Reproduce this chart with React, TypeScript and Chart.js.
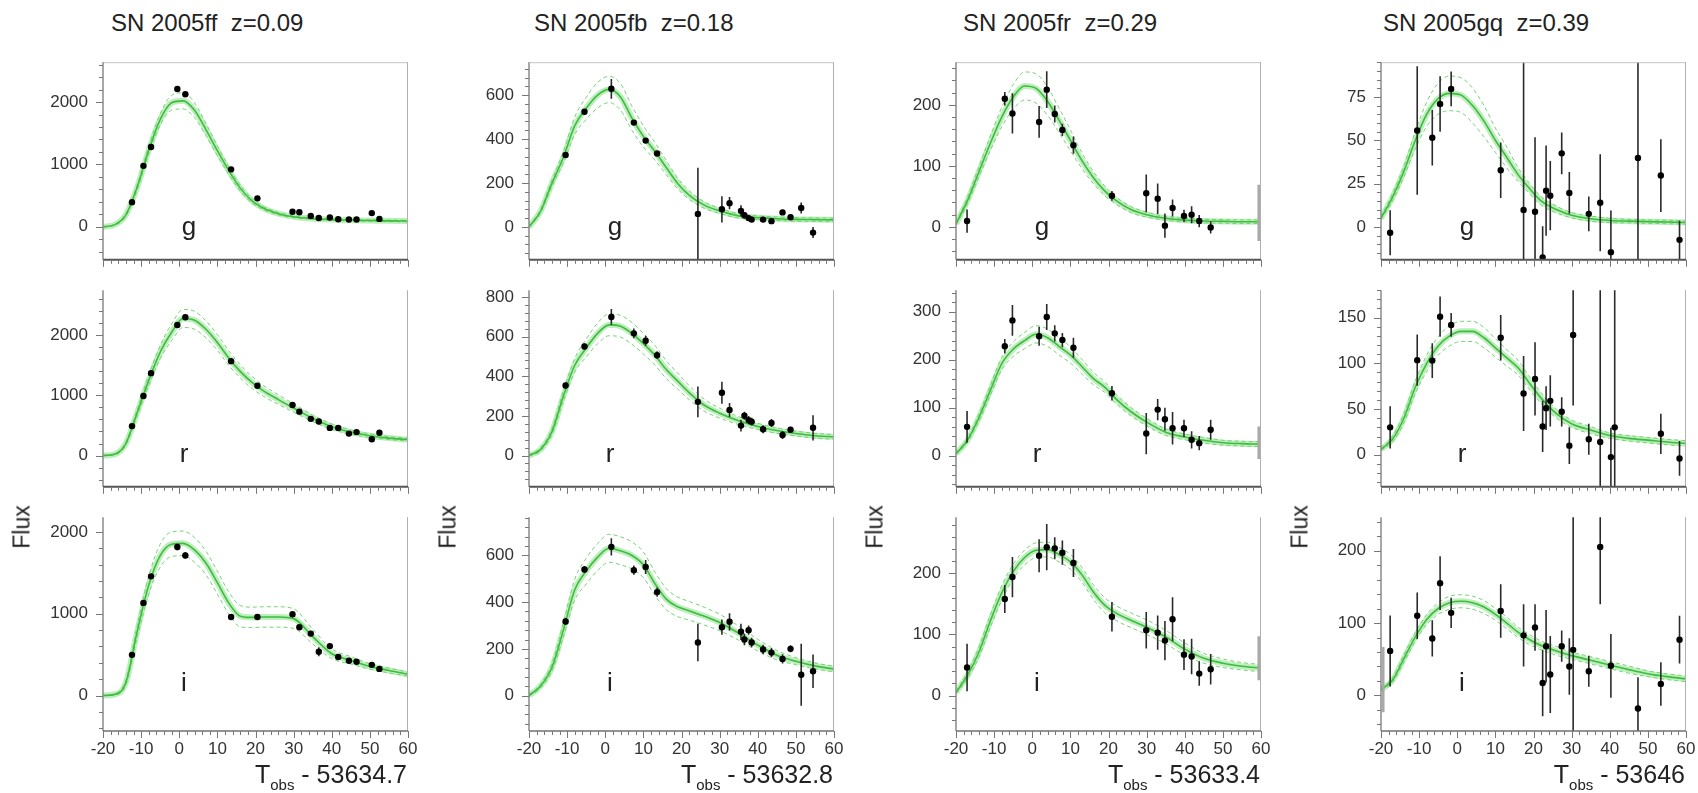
import React, { useEffect, useRef } from 'react';
import { Chart, registerables } from 'chart.js';

Chart.register(...registerables);

const FONT = "'Liberation Sans', Arial, Helvetica, sans-serif";

// ---------- shared grids ----------
const MODEL_T = [-20, -17, -14, -11, -8, -5, -2, 1, 4, 7, 10, 13, 16, 19, 22, 26, 30, 35, 40, 45, 50, 55, 60];
const X_TICKS = [-20, -10, 0, 10, 20, 30, 40, 50, 60];

// ---------- SN 2005ff (z=0.09) ----------
const FF_T = [-12.4, -9.4, -7.4, -0.5, 1.6, 13.6, 20.5, 29.7, 31.5, 34.5, 36.6, 39.5, 41.7, 44.5, 46.5, 50.5, 52.5];
const FF_G = [395, 977, 1279, 2209, 2126, 921, 456, 242, 233, 172, 140, 149, 121, 116, 116, 219, 126];
const FF_G_ERR = [20, 25, 30, 40, 40, 25, 20, 15, 15, 15, 15, 15, 15, 15, 15, 30, 40];
const FF_R = [490, 990, 1370, 2170, 2300, 1570, 1160, 840, 730, 610, 565, 460, 460, 365, 390, 270, 380];
const FF_R_ERR = [20, 25, 30, 40, 40, 30, 25, 25, 25, 20, 20, 20, 20, 20, 20, 25, 30];
const FF_I = [497, 1132, 1457, 1816, 1713, 960, 960, 994, 834, 757, 535, 604, 470, 424, 413, 375, 325];
const FF_I_ERR = [20, 25, 30, 40, 40, 25, 25, 30, 25, 25, 55, 25, 20, 20, 20, 25, 20];
const FF_G_MODEL = [0, 30, 190, 640, 1230, 1720, 1990, 2020, 1870, 1560, 1220, 900, 620, 420, 300, 210, 160, 130, 115, 105, 100, 95, 92];
const FF_G_BAND = [3, 8, 20, 40, 60, 90, 120, 130, 120, 100, 80, 60, 45, 35, 25, 20, 15, 12, 12, 12, 12, 12, 12];
const FF_R_MODEL = [0, 20, 200, 720, 1250, 1720, 2050, 2280, 2250, 2100, 1880, 1620, 1400, 1220, 1080, 930, 790, 620, 480, 390, 330, 290, 265];
const FF_R_BAND = [3, 10, 25, 50, 80, 110, 140, 150, 150, 140, 130, 120, 110, 100, 90, 80, 70, 55, 45, 35, 30, 25, 22];
const FF_I_MODEL = [0, 12, 160, 790, 1350, 1710, 1850, 1860, 1780, 1620, 1380, 1130, 970, 955, 960, 960, 940, 720, 510, 430, 355, 306, 260];
const FF_I_BAND = [3, 8, 30, 70, 110, 140, 150, 150, 150, 145, 140, 135, 130, 125, 125, 125, 120, 90, 60, 45, 35, 30, 25];
const FF_TICKS = [0, 1000, 2000];

// ---------- SN 2005fb (z=0.18) ----------
const FB_T = [-10.4, -5.45, 1.6, 7.5, 10.6, 13.6, 24.3, 30.6, 32.6, 35.6, 36.5, 37.6, 38.4, 41.4, 43.6, 46.5, 48.6, 51.4, 54.5];
const FB_G = [327, 524, 629, 475, 393, 334, 59, 80, 108, 73, 53, 40, 33, 33, 26, 66, 44, 86, -26];
const FB_G_ERR = [10, 10, 45, 10, 10, 10, 210, 60, 28, 25, 15, 12, 10, 10, 10, 12, 10, 25, 25];
const FB_R = [354, 551, 700, 617, 580, 507, 271, 317, 230, 151, 201, 179, 171, 133, 164, 104, 130, null, 140];
const FB_R_ERR = [15, 15, 40, 25, 25, 20, 78, 55, 35, 30, 20, 20, 20, 20, 20, 20, 15, 0, 64];
const FB_I = [317, 540, 637, 537, 551, 443, 227, 293, 316, 273, 240, 280, 227, 197, 184, 157, 200, 89, 104];
const FB_I_ERR = [15, 15, 37, 20, 30, 20, 80, 33, 37, 35, 25, 20, 20, 20, 20, 20, 15, 133, 72];
const FB_G_MODEL = [0, 70, 198, 316, 461, 540, 600, 626, 592, 495, 412, 345, 270, 198, 145, 99, 73, 50, 42, 37, 34, 33, 32];
const FB_G_BAND = [3, 8, 15, 25, 40, 50, 58, 60, 60, 55, 48, 40, 32, 25, 20, 15, 12, 10, 8, 8, 8, 8, 8];
const FB_R_MODEL = [0, 30, 120, 300, 456, 543, 617, 660, 653, 617, 565, 507, 434, 376, 318, 254, 214, 176, 147, 126, 111, 100, 94];
const FB_R_BAND = [3, 8, 15, 25, 35, 45, 52, 55, 55, 55, 52, 50, 45, 40, 35, 30, 25, 20, 16, 14, 12, 12, 12];
const FB_I_MODEL = [0, 40, 120, 280, 453, 533, 593, 631, 620, 600, 560, 480, 413, 380, 363, 340, 313, 267, 216, 173, 147, 127, 113];
const FB_I_BAND = [3, 8, 15, 30, 45, 55, 58, 60, 60, 58, 55, 50, 45, 42, 40, 38, 35, 30, 25, 20, 15, 13, 12];
const FB_G_TICKS = [0, 200, 400, 600];
const FB_R_TICKS = [0, 200, 400, 600, 800];
const FB_I_TICKS = [0, 200, 400, 600];

// ---------- SN 2005fr (z=0.29) ----------
const FR_T = [-17.1, -7.2, -5.2, 1.8, 3.8, 5.9, 7.9, 10.8, 20.9, 29.9, 32.9, 34.8, 36.8, 39.8, 41.8, 43.8, 46.8, 59.4];
const FR_G = [9.5, 210, 186, 172, 225, 185, 159, 134, 51, 55, 46, 2, 31, 18, 20, 9.5, -1, 23];
const FR_G_ERR = [19, 11, 33, 26, 30, 14, 10, 14, 8, 31, 25, 20, 14, 10, 14, 10, 10, 46];
const FR_R = [60, 228, 282, 249, 289, 255, 241, 225, 130, 46, 96, 76, 57, 57, 33, 26, 54, 27];
const FR_R_ERR = [33, 15, 32, 20, 27, 17, 15, 21, 15, 43, 22, 24, 34, 18, 18, 15, 21, 34];
const FR_I = [46, 158, 194, 229, 243, 241, 234, 217, 129, 107, 103, 90, 125, 67, 64, 36, 43, 61];
const FR_I_ERR = [39, 23, 33, 27, 38, 18, 20, 23, 24, 30, 28, 32, 36, 25, 29, 20, 25, 36];
const FR_G_MODEL = [5, 43, 90, 137, 180, 213, 231, 227, 206, 175, 142, 109, 81, 59, 43, 28, 20, 14, 11, 9.5, 9, 8.5, 8.5];
const FR_G_BAND = [2, 5, 8, 12, 16, 20, 23, 24, 23, 20, 17, 13, 10, 8, 6, 5, 4, 3, 3, 3, 3, 3, 3];
const FR_R_MODEL = [4, 32, 79, 136, 192, 222, 240, 253, 246, 228, 210, 186, 161, 143, 118, 91, 70, 49, 39, 32, 27, 25, 24];
const FR_R_BAND = [2, 4, 7, 10, 13, 15, 17, 18, 18, 18, 17, 15, 13, 11, 10, 9, 8, 7, 6, 6, 5, 5, 5];
const FR_I_MODEL = [5, 33, 71, 122, 168, 203, 226, 238, 239, 231, 219, 198, 170, 148, 135, 123, 112, 96, 76, 61, 53, 48, 45];
const FR_I_BAND = [2, 5, 8, 10, 12, 12, 12, 12, 12, 12, 12, 12, 12, 12, 12, 12, 12, 11, 10, 8, 7, 6, 6];
const FR_G_TICKS = [0, 100, 200];
const FR_R_TICKS = [0, 100, 200, 300];
const FR_I_TICKS = [0, 100, 200];

// ---------- SN 2005gq (z=0.39) ----------
const GQ_T = [-19.4, -17.6, -10.5, -6.55, -4.5, -1.6, 11.4, 17.4, 20.4, 22.4, 23.3, 24.4, 27.4, 29.4, 30.4, 34.5, 37.5, 40.3, 41.3, 47.4, 53.4, 58.3];
const GQ_G = [null, -3.4, 55.6, 51.4, 70.9, 79.6, 32.7, 9.7, 8.7, -17.6, 20.9, 18, 42.4, 19.6, null, 7.5, 13.9, -14.6, null, 39.7, 29.6, -7.5];
const GQ_G_ERR = [0, 13, 37, 16, 16, 10, 16, 100, 43, 18, 26, 20, 12, 12, 0, 10, 28, 24, 0, 80, 21, 11];
const GQ_R = [null, 30, 103.5, 103, 151, 142, 128, 67, 83, 31, 51, 59, 47, 10, 131, 17, 14, -2.5, 30, null, 23, -4];
const GQ_R_ERR = [0, 23, 28, 19, 22, 13, 25, 41, 40, 28, 24, 28, 16, 20, 77, 17, 200, 32, 160, 0, 22, 19];
const GQ_I = [22, 61.5, 110, 78.7, 155, 114, 116.6, 83, 93.8, 17.2, 68, 29, 68, 40, 63, 33.5, 205, 41, null, -18, 16, 77];
const GQ_I_ERR = [45, 49, 32, 25, 37, 21, 37, 43, 32, 46, 50, 53, 21.5, 39, 200, 21.5, 79, 44, 0, 43, 30, 33];
const GQ_G_MODEL = [5, 17, 32, 50, 65, 74, 77, 76, 70, 61, 50, 40, 30, 22, 15, 10, 6.7, 4.7, 3.7, 3.3, 3, 2.8, 2.5];
const GQ_G_BAND = [1, 2, 3, 5, 7, 9, 10, 10, 10, 9, 7, 6, 4, 3, 2.5, 2, 1.5, 1.5, 1.2, 1, 1, 1, 1];
const GQ_R_MODEL = [6, 17, 40, 74, 100, 119, 130, 135, 135, 128, 117, 106, 95, 78, 62, 45, 34, 27, 21, 18, 16, 14, 12.5];
const GQ_R_BAND = [1, 3, 5, 7, 9, 10, 11, 11, 11, 11, 10, 9, 8, 7, 6, 5, 4, 4, 3, 3, 3, 3, 3];
const GQ_I_MODEL = [8, 21, 51, 81, 105, 120, 128, 130, 128, 122, 112, 100, 87, 77, 69, 61.5, 55, 48.6, 42, 35.7, 30, 26, 23];
const GQ_I_BAND = [2, 3, 5, 6, 7, 8, 9, 9, 9, 9, 8, 8, 7, 7, 6, 6, 5, 5, 5, 5, 4, 4, 4];
const GQ_G_TICKS = [0, 25, 50, 75];
const GQ_R_TICKS = [0, 50, 100, 150];
const GQ_I_TICKS = [0, 100, 200];

// ---------- assembled specs ----------
const SUPERNOVAE = [
  {
    name: 'SN 2005ff', z: '0.09', t0: '53634.7', t: FF_T,
    bands: [
      { label: 'g', y: FF_G, err: FF_G_ERR, model: FF_G_MODEL, band: FF_G_BAND, min: -530, max: 2640, ticks: FF_TICKS, minor: 200 },
      { label: 'r', y: FF_R, err: FF_R_ERR, model: FF_R_MODEL, band: FF_R_BAND, min: -520, max: 2750, ticks: FF_TICKS, minor: 200 },
      { label: 'i', y: FF_I, err: FF_I_ERR, model: FF_I_MODEL, band: FF_I_BAND, min: -434, max: 2180, ticks: FF_TICKS, minor: 200 },
    ],
  },
  {
    name: 'SN 2005fb', z: '0.18', t0: '53632.8', t: FB_T,
    bands: [
      { label: 'g', y: FB_G, err: FB_G_ERR, model: FB_G_MODEL, band: FB_G_BAND, min: -150, max: 750, ticks: FB_G_TICKS, minor: 40 },
      { label: 'r', y: FB_R, err: FB_R_ERR, model: FB_R_MODEL, band: FB_R_BAND, min: -158, max: 835, ticks: FB_R_TICKS, minor: 40 },
      { label: 'i', y: FB_I, err: FB_I_ERR, model: FB_I_MODEL, band: FB_I_BAND, min: -152, max: 764, ticks: FB_I_TICKS, minor: 40 },
    ],
  },
  {
    name: 'SN 2005fr', z: '0.29', t0: '53633.4', t: FR_T,
    bands: [
      { label: 'g', y: FR_G, err: FR_G_ERR, model: FR_G_MODEL, band: FR_G_BAND, min: -54, max: 270, ticks: FR_G_TICKS, minor: 20 },
      { label: 'r', y: FR_R, err: FR_R_ERR, model: FR_R_MODEL, band: FR_R_BAND, min: -65, max: 345, ticks: FR_R_TICKS, minor: 20 },
      { label: 'i', y: FR_I, err: FR_I_ERR, model: FR_I_MODEL, band: FR_I_BAND, min: -58, max: 292, ticks: FR_I_TICKS, minor: 20 },
    ],
  },
  {
    name: 'SN 2005gq', z: '0.39', t0: '53646', t: GQ_T,
    bands: [
      { label: 'g', y: GQ_G, err: GQ_G_ERR, model: GQ_G_MODEL, band: GQ_G_BAND, min: -19, max: 95, ticks: GQ_G_TICKS, minor: 5 },
      { label: 'r', y: GQ_R, err: GQ_R_ERR, model: GQ_R_MODEL, band: GQ_R_BAND, min: -35, max: 180, ticks: GQ_R_TICKS, minor: 10 },
      { label: 'i', y: GQ_I, err: GQ_I_ERR, model: GQ_I_MODEL, band: GQ_I_BAND, min: -49, max: 246, ticks: GQ_I_TICKS, minor: 20 },
    ],
  },
];

// ---------- layout ----------
const COL_LEFT = [103, 529, 956, 1381];
const PLOT_W = 305;
const ROW_TOP = [47, 275, 502];
const ROW_BOTTOM = [275, 502, 731];
const TITLE_LEFT = [111, 534, 963, 1383];
const LETTER_DX = [86, 81, 81];

function Panel({ col, row, sn, band }: any) {
  const ref = useRef<HTMLCanvasElement | null>(null);
  const isBottom = row === 2;
  const padL = 70, padR = 20, padT = 10;
  const yW = 60;
  const xH = 35;
  const padB = isBottom ? 45 : 10;
  const plotH = ROW_BOTTOM[row] - ROW_TOP[row];
  const cw = PLOT_W + padL + padR;
  const ch = plotH + padT + padB;

  useEffect(() => {
    const canvas = ref.current;
    if (!canvas) return;
    const isEdge = (x: number) => x > 59 || x < -19;
    const curve = (sign: number) => MODEL_T.map((t, i) => ({ x: t, y: band.model[i] + sign * band.band[i] }));
    const points = sn.t
      .map((t: number, i: number) => ({ x: t, y: band.y[i], e: band.err[i] }))
      .filter((p: any) => p.y !== null && p.y !== undefined);

    const plugin = {
      id: 'rootFrame',
      beforeDatasetDraw(chart: any, args: any) {
        const ds = chart.data.datasets[args.index];
        if (!ds.isPoints) return;
        const { ctx, chartArea } = chart;
        const xs = chart.scales.x, ys = chart.scales.y;
        ctx.save();
        ctx.beginPath();
        ctx.rect(chartArea.left, chartArea.top, chartArea.right - chartArea.left, chartArea.bottom - chartArea.top);
        ctx.clip();
        ds.data.forEach((p: any) => {
          const px = xs.getPixelForValue(p.x);
          const y1 = ys.getPixelForValue(p.y - p.e);
          const y2 = ys.getPixelForValue(p.y + p.e);
          const edge = isEdge(p.x);
          ctx.strokeStyle = edge ? '#a8a8a8' : '#2a2a2a';
          ctx.lineWidth = edge ? 2.5 : 1.6;
          ctx.beginPath();
          ctx.moveTo(px, y1);
          ctx.lineTo(px, y2);
          ctx.stroke();
        });
        ctx.restore();
      },
      afterDraw(chart: any) {
        const { ctx, chartArea } = chart;
        const { left, right, top, bottom } = chartArea;
        const xs = chart.scales.x, ys = chart.scales.y;
        ctx.save();
        ctx.lineWidth = 1;
        ctx.strokeStyle = '#c4c4c4';
        if (row === 0) {
          ctx.beginPath(); ctx.moveTo(left, top + 0.5); ctx.lineTo(right, top + 0.5); ctx.stroke();
        }
        ctx.strokeStyle = '#b0b0b0';
        ctx.beginPath(); ctx.moveTo(right - 0.5, top); ctx.lineTo(right - 0.5, bottom); ctx.stroke();
        ctx.strokeStyle = '#8a8a8a';
        ctx.lineWidth = 1.5;
        ctx.beginPath(); ctx.moveTo(left, top); ctx.lineTo(left, bottom); ctx.stroke();
        ctx.strokeStyle = isBottom ? '#707070' : '#555555';
        ctx.lineWidth = isBottom ? 1.5 : 2;
        ctx.beginPath(); ctx.moveTo(left, bottom); ctx.lineTo(right, bottom); ctx.stroke();
        ctx.strokeStyle = '#777';
        ctx.lineWidth = 1;
        const kMin = Math.ceil(band.min / band.minor);
        const kMax = Math.floor(band.max / band.minor);
        for (let k = kMin; k <= kMax; k++) {
          const py = Math.round(ys.getPixelForValue(k * band.minor)) + 0.5;
          const len = k % 5 === 0 ? 7 : 4;
          ctx.beginPath(); ctx.moveTo(left - len, py); ctx.lineTo(left, py); ctx.stroke();
        }
        for (let k = -10; k <= 30; k++) {
          const px = Math.round(xs.getPixelForValue(k * 2)) + 0.5;
          const len = k % 5 === 0 ? 7 : 4;
          ctx.beginPath(); ctx.moveTo(px, bottom); ctx.lineTo(px, bottom + len); ctx.stroke();
        }
        ctx.restore();
      },
    };

    const chart = new Chart(canvas, {
      type: 'line',
      data: {
        datasets: [
          {
            isPoints: true,
            data: points,
            showLine: false,
            order: 0,
            pointRadius: (c: any) => (c.raw && isEdge(c.raw.x) ? 0 : 3.2),
            pointBackgroundColor: '#000',
            pointBorderColor: '#000',
            pointBorderWidth: 0,
          } as any,
          {
            data: curve(0),
            borderColor: '#3cbd3c',
            borderWidth: 1.6,
            pointRadius: 0,
            cubicInterpolationMode: 'monotone',
            order: 1,
          },
          {
            data: curve(0),
            borderColor: 'rgba(110, 215, 110, 0.45)',
            borderWidth: 6,
            pointRadius: 0,
            cubicInterpolationMode: 'monotone',
            order: 2,
          },
          {
            data: curve(1),
            borderColor: '#74d474',
            borderWidth: 1,
            borderDash: [4, 3],
            pointRadius: 0,
            cubicInterpolationMode: 'monotone',
            order: 3,
          },
          {
            data: curve(-1),
            borderColor: '#74d474',
            borderWidth: 1,
            borderDash: [4, 3],
            pointRadius: 0,
            cubicInterpolationMode: 'monotone',
            order: 3,
          },
        ],
      },
      options: {
        animation: false,
        responsive: false,
        devicePixelRatio: 1,
        events: [],
        layout: {
          padding: { left: padL - yW, right: padR, top: padT, bottom: isBottom ? padB - xH : padB },
        },
        plugins: { legend: { display: false }, tooltip: { enabled: false }, title: { display: false } },
        scales: {
          x: {
            type: 'linear',
            min: -20,
            max: 60,
            display: isBottom,
            afterBuildTicks: (s: any) => { s.ticks = X_TICKS.map((v) => ({ value: v })); },
            ticks: {
              font: { family: FONT, size: 17 },
              color: '#333',
              padding: 8,
              maxRotation: 0,
              autoSkip: false,
              callback: (v: any) => String(v),
            },
            grid: { display: false, drawTicks: false },
            border: { display: false },
            ...(isBottom ? { afterFit: (s: any) => { s.height = xH; } } : {}),
          },
          y: {
            type: 'linear',
            min: band.min,
            max: band.max,
            afterBuildTicks: (s: any) => { s.ticks = band.ticks.map((v: number) => ({ value: v })); },
            ticks: {
              font: { family: FONT, size: 17 },
              color: '#333',
              padding: 15,
              autoSkip: false,
              callback: (v: any) => String(v),
            },
            grid: { display: false, drawTicks: false },
            border: { display: false },
            afterFit: (s: any) => { s.width = yW; },
          },
        },
      } as any,
      plugins: [plugin],
    });
    return () => chart.destroy();
  }, []);

  return (
    <canvas
      ref={ref}
      width={cw}
      height={ch}
      style={{ position: 'absolute', left: COL_LEFT[col] - padL, top: ROW_TOP[row] - padT, width: cw, height: ch }}
    />
  );
}

export default function App() {
  return (
    <div
      style={{
        position: 'absolute', left: 0, top: 0, width: 1698, height: 793,
        background: '#fff', overflow: 'hidden', fontFamily: FONT, color: '#222',
      }}
    >
      {SUPERNOVAE.map((sn, c) => (
        <React.Fragment key={c}>
          <div style={{ position: 'absolute', left: TITLE_LEFT[c], top: 11, fontSize: 24, lineHeight: '24px', whiteSpace: 'pre' }}>
            {`${sn.name}  z=${sn.z}`}
          </div>
          {sn.bands.map((b, r) => (
            <Panel key={'p' + r} col={c} row={r} sn={sn} band={b} />
          ))}
          {sn.bands.map((b, r) => (
            <div
              key={'l' + r}
              style={{
                position: 'absolute', left: COL_LEFT[c] + LETTER_DX[r] - 20, width: 40, textAlign: 'center',
                top: ROW_BOTTOM[r] - 62, fontSize: 26, lineHeight: '26px',
              }}
            >
              {b.label}
            </div>
          ))}
          <div
            style={{
              position: 'absolute', left: COL_LEFT[c] - 81, top: 527, fontSize: 23, lineHeight: '23px',
              transform: 'translate(-50%, -50%) rotate(-90deg)', whiteSpace: 'pre',
            }}
          >
            Flux
          </div>
          <div
            style={{
              position: 'absolute', right: 1698 - (COL_LEFT[c] + PLOT_W) + 1, top: 762,
              fontSize: 25, lineHeight: '25px', whiteSpace: 'pre',
            }}
          >
            T<span style={{ fontSize: 15, position: 'relative', top: 7 }}>obs</span>{` - ${sn.t0}`}
          </div>
        </React.Fragment>
      ))}
    </div>
  );
}
